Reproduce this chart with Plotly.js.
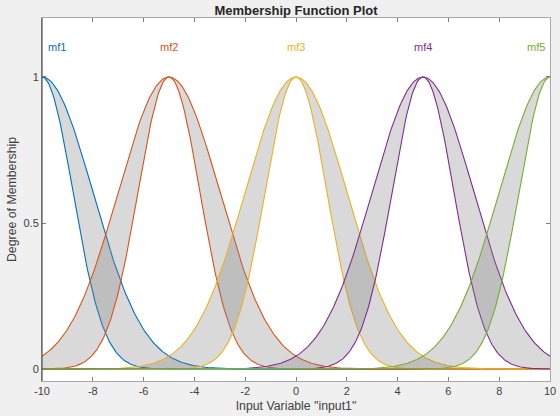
<!DOCTYPE html>
<html>
<head>
<meta charset="utf-8">
<script src="https://cdn.plot.ly/plotly-3.0.1.min.js"></script>
<style>html,body{margin:0;padding:0;background:#f0f0f0;}#chart{width:560px;height:416px;}</style>
</head>
<body>
<div id="chart"></div>
<script>
// Membership function parameters (type-2 Gaussian: upper and lower MFs)
const mfNames = ["mf1", "mf2", "mf3", "mf4", "mf5"];
const mfCenters = [-10, -5, 0, 5, 10];
const upperSigmas = [2.0, 2.0, 2.0, 2.0, 2.0];
const lowerSigmas = [1.22, 1.22, 1.22, 1.22, 1.22];
const mfColors = ["#0072BD", "#D95319", "#EDB120", "#7E2F8E", "#77AC30"];
const labelX = [-9.4, -5, 0, 5, 9.45];
const xTicks = [-10, -8, -6, -4, -2, 0, 2, 4, 6, 8, 10];
const yTicks = [0, 0.5, 1];
const inputRange = [-10, 10];

const N = 501;
const xs = [];
for (let i = 0; i < N; i++) xs.push(inputRange[0] + (inputRange[1] - inputRange[0]) * i / (N - 1));
function gauss(x, c, s) { return Math.exp(-((x - c) * (x - c)) / (2 * s * s)); }

const traces = [];
for (let k = 0; k < mfNames.length; k++) {
  const lower = xs.map(x => gauss(x, mfCenters[k], lowerSigmas[k]));
  const upper = xs.map(x => gauss(x, mfCenters[k], upperSigmas[k]));
  traces.push({x: xs, y: lower, type: "scatter", mode: "lines",
    line: {color: mfColors[k], width: 1.1}, hoverinfo: "skip", showlegend: false});
  traces.push({x: xs, y: upper, type: "scatter", mode: "lines", fill: "tonexty",
    fillcolor: "rgba(128,128,128,0.30)",
    line: {color: mfColors[k], width: 1.1}, hoverinfo: "skip", showlegend: false});
}

const annotations = mfNames.map((n, k) => ({
  x: labelX[k], y: 1.103, xref: "x", yref: "y", text: n, showarrow: false,
  font: {family: "Liberation Sans, Arial, sans-serif", size: 11, color: mfColors[k]},
  xanchor: "center", yanchor: "middle"
}));

const tickFont = {family: "Liberation Sans, Arial, sans-serif", size: 11, color: "#404040"};
const titleFont = {family: "Liberation Sans, Arial, sans-serif", size: 12.3, color: "#404040"};

const layout = {
  width: 560, height: 416,
  paper_bgcolor: "#f0f0f0", plot_bgcolor: "#ffffff",
  margin: {l: 42, r: 10, t: 18, b: 35, pad: 0},
  showlegend: false,
  title: {text: "<b>Membership Function Plot</b>", x: 0.5, xref: "paper", y: 0.976, yref: "container",
    yanchor: "middle", xanchor: "center",
    font: {family: "Liberation Sans, Arial, sans-serif", size: 13, color: "#262626"}},
  xaxis: {range: inputRange, tickvals: xTicks, ticktext: xTicks.map(String), ticks: "inside", ticklen: 4,
    tickcolor: "#808080", showgrid: false, zeroline: false, showline: true, linecolor: "#a8a8a8",
    mirror: "ticks", tickfont: tickFont,
    title: {text: 'Input Variable "input1"', font: titleFont, standoff: 5}},
  yaxis: {range: [-0.041, 1.202], tickvals: yTicks, ticktext: ["0", "0.5", "1"], ticks: "inside", ticklen: 4,
    tickcolor: "#808080", showgrid: false, zeroline: false, showline: true, linecolor: "#a8a8a8",
    mirror: "ticks", tickfont: tickFont,
    title: {text: "Degree of Membership", font: titleFont, standoff: 4}},
  shapes: [
    {type: "line", xref: "paper", yref: "paper", x0: 0, x1: 0, y0: 0, y1: 1,
     line: {color: "#505050", width: 1.2}}
  ],
  annotations: annotations
};

Plotly.newPlot("chart", traces, layout, {displayModeBar: false, staticPlot: true});
</script>
</body>
</html>
